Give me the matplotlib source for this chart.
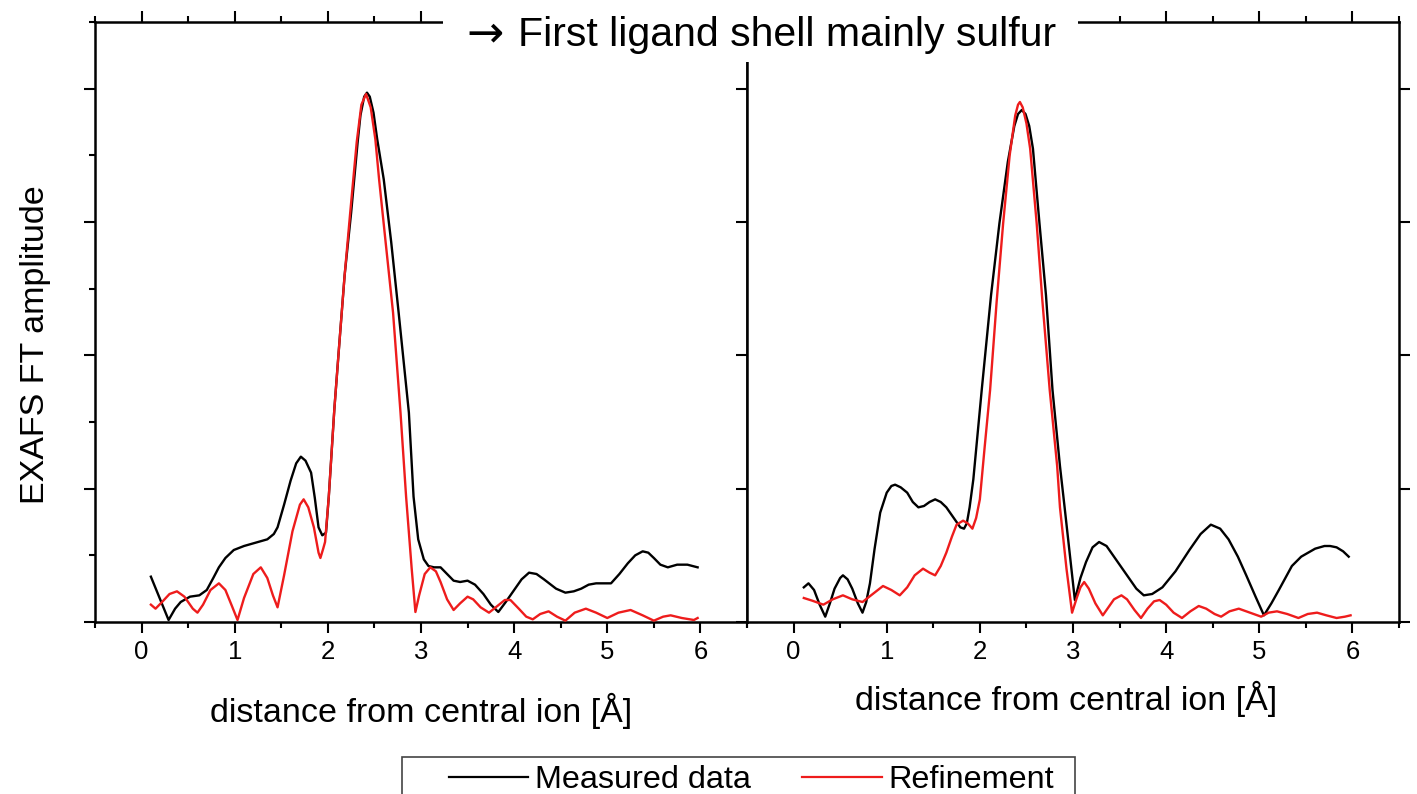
import matplotlib.pyplot as plt
from matplotlib.ticker import MultipleLocator
from matplotlib.patches import Rectangle
from matplotlib.lines import Line2D

plt.rcParams['font.family'] = ['Liberation Sans', 'DejaVu Sans']

# left panel: measured and refined FT amplitude
left_meas_x = [0.10, 0.29, 0.36, 0.42, 0.52, 0.62, 0.70, 0.77, 0.83, 0.90, 0.99, 1.10, 1.20, 1.35,
               1.42, 1.46, 1.53, 1.60, 1.66, 1.71, 1.76, 1.82, 1.86, 1.90, 1.94, 1.98, 2.01, 2.07,
               2.12, 2.18, 2.25, 2.32, 2.35, 2.39, 2.42, 2.45, 2.49, 2.53, 2.60, 2.68, 2.76, 2.87,
               2.92, 2.97, 3.03, 3.08, 3.14, 3.21, 3.28, 3.35, 3.42, 3.50, 3.58, 3.67, 3.75, 3.83,
               3.91, 4.00, 4.08, 4.16, 4.24, 4.32, 4.45, 4.55, 4.64, 4.72, 4.80, 4.88, 4.96, 5.04,
               5.13, 5.22, 5.30, 5.38, 5.44, 5.50, 5.57, 5.65, 5.75, 5.86, 5.97]
left_meas_y = [0.34, 0.015, 0.10, 0.15, 0.19, 0.20, 0.24, 0.33, 0.41, 0.48, 0.54, 0.57, 0.59, 0.62,
               0.66, 0.71, 0.88, 1.06, 1.19, 1.24, 1.21, 1.12, 0.93, 0.71, 0.65, 0.67, 0.94, 1.60,
               2.06, 2.60, 3.07, 3.60, 3.80, 3.94, 3.97, 3.94, 3.82, 3.62, 3.32, 2.85, 2.32, 1.57,
               0.94, 0.62, 0.47, 0.42, 0.41, 0.41, 0.36, 0.31, 0.30, 0.31, 0.28, 0.21, 0.13, 0.075,
               0.15, 0.24, 0.32, 0.37, 0.36, 0.32, 0.25, 0.22, 0.23, 0.25, 0.28, 0.29, 0.29, 0.29,
               0.36, 0.44, 0.50, 0.53, 0.52, 0.48, 0.43, 0.41, 0.43, 0.43, 0.41]

left_fit_x = [0.10, 0.15, 0.22, 0.30, 0.38, 0.46, 0.55, 0.60, 0.66, 0.74, 0.83, 0.90, 0.97, 1.03,
              1.10, 1.20, 1.28, 1.35, 1.41, 1.46, 1.53, 1.62, 1.70, 1.74, 1.79, 1.85, 1.90, 1.92,
              1.95, 1.97, 2.01, 2.07, 2.12, 2.18, 2.24, 2.31, 2.36, 2.41, 2.46, 2.51, 2.55, 2.62,
              2.70, 2.78, 2.84, 2.90, 2.94, 2.98, 3.04, 3.10, 3.16, 3.21, 3.28, 3.35, 3.42, 3.50,
              3.56, 3.64, 3.73, 3.82, 3.90, 3.96, 4.05, 4.13, 4.20, 4.28, 4.37, 4.46, 4.55, 4.65,
              4.77, 4.88, 5.00, 5.12, 5.25, 5.38, 5.50, 5.60, 5.68, 5.80, 5.93, 5.97]
left_fit_y = [0.13, 0.10, 0.15, 0.21, 0.23, 0.19, 0.10, 0.07, 0.13, 0.24, 0.29, 0.24, 0.12, 0.015,
              0.18, 0.36, 0.41, 0.33, 0.20, 0.11, 0.35, 0.68, 0.88, 0.92, 0.86, 0.71, 0.52, 0.48,
              0.55, 0.60, 0.94, 1.60, 2.06, 2.60, 3.07, 3.60, 3.88, 3.96, 3.86, 3.62, 3.32, 2.85,
              2.32, 1.57, 0.94, 0.40, 0.075, 0.20, 0.36, 0.41, 0.38, 0.30, 0.17, 0.09, 0.14, 0.19,
              0.17, 0.11, 0.07, 0.12, 0.165, 0.165, 0.10, 0.04, 0.02, 0.06, 0.08, 0.04, 0.01, 0.07,
              0.10, 0.07, 0.03, 0.07, 0.09, 0.05, 0.01, 0.04, 0.05, 0.03, 0.015, 0.03]

# right panel
right_meas_x = [0.11, 0.16, 0.22, 0.28, 0.34, 0.39, 0.44, 0.50, 0.53, 0.58, 0.63, 0.69, 0.74, 0.78,
                0.82, 0.87, 0.93, 1.00, 1.05, 1.09, 1.15, 1.22, 1.28, 1.34, 1.40, 1.46, 1.52, 1.58,
                1.64, 1.72, 1.79, 1.83, 1.86, 1.89, 1.93, 2.02, 2.12, 2.21, 2.30, 2.37, 2.41, 2.45,
                2.49, 2.53, 2.57, 2.64, 2.71, 2.78, 2.86, 2.91, 3.02, 3.08, 3.14, 3.21, 3.28, 3.36,
                3.46, 3.60, 3.68, 3.76, 3.85, 3.96, 4.10, 4.25, 4.37, 4.48, 4.58, 4.67, 4.77, 4.86,
                4.96, 5.05, 5.13, 5.21, 5.35, 5.45, 5.60, 5.70, 5.76, 5.83, 5.90, 5.96]
right_meas_y = [0.26, 0.29, 0.24, 0.13, 0.04, 0.14, 0.25, 0.33, 0.35, 0.32, 0.25, 0.14, 0.07, 0.15,
                0.29, 0.55, 0.82, 0.97, 1.02, 1.03, 1.01, 0.97, 0.90, 0.86, 0.87, 0.90, 0.92, 0.90,
                0.86, 0.78, 0.71, 0.70, 0.74, 0.86, 1.07, 1.74, 2.45, 2.99, 3.45, 3.72, 3.81, 3.84,
                3.81, 3.72, 3.55, 2.99, 2.45, 1.74, 1.17, 0.86, 0.165, 0.33, 0.45, 0.56, 0.60, 0.57,
                0.47, 0.33, 0.25, 0.20, 0.21, 0.26, 0.38, 0.54, 0.66, 0.73, 0.70, 0.62, 0.49, 0.35,
                0.19, 0.05, 0.14, 0.24, 0.42, 0.49, 0.55, 0.57, 0.57, 0.56, 0.53, 0.49]

right_fit_x = [0.11, 0.20, 0.32, 0.42, 0.53, 0.63, 0.74, 0.85, 0.96, 1.05, 1.14, 1.22, 1.30, 1.39,
               1.46, 1.52, 1.58, 1.64, 1.70, 1.75, 1.82, 1.87, 1.92, 1.96, 2.00, 2.05, 2.11, 2.18,
               2.25, 2.32, 2.38, 2.41, 2.43, 2.46, 2.50, 2.54, 2.61, 2.67, 2.75, 2.83, 2.86, 2.93,
               2.99, 3.04, 3.08, 3.12, 3.17, 3.24, 3.32, 3.37, 3.44, 3.52, 3.58, 3.66, 3.73, 3.80,
               3.87, 3.93, 4.00, 4.08, 4.17, 4.26, 4.35, 4.43, 4.52, 4.59, 4.68, 4.78, 4.90, 5.02,
               5.10, 5.19, 5.30, 5.42, 5.52, 5.62, 5.72, 5.83, 5.92, 5.98]
right_fit_y = [0.18, 0.16, 0.13, 0.17, 0.20, 0.17, 0.15, 0.21, 0.27, 0.24, 0.20, 0.26, 0.35, 0.40,
               0.37, 0.35, 0.42, 0.52, 0.64, 0.73, 0.76, 0.74, 0.70, 0.78, 0.92, 1.30, 1.74, 2.40,
               2.99, 3.50, 3.80, 3.88, 3.90, 3.86, 3.74, 3.55, 2.99, 2.42, 1.74, 1.17, 0.86, 0.40,
               0.07, 0.18, 0.26, 0.30, 0.25, 0.14, 0.05, 0.10, 0.17, 0.20, 0.17, 0.09, 0.03, 0.10,
               0.155, 0.165, 0.13, 0.07, 0.03, 0.08, 0.12, 0.10, 0.06, 0.04, 0.08, 0.10, 0.07, 0.04,
               0.07, 0.08, 0.06, 0.03, 0.06, 0.07, 0.05, 0.03, 0.04, 0.05]

MEAS_COLOR = 'black'
FIT_COLOR = '#ee1c1c'

W, H = 1417, 794
fig = plt.figure(figsize=(W / 100, H / 100), dpi=100)

ax_l = fig.add_axes([95 / W, (H - 622) / H, 652 / W, 600 / H])
ax_r = fig.add_axes([747 / W, (H - 622) / H, 652 / W, 600 / H])


def style_axes(ax, y_minor):
    ax.set_xlim(-0.5, 6.5)
    ax.set_ylim(0, 4.5)
    ax.xaxis.set_major_locator(MultipleLocator(1))
    ax.xaxis.set_minor_locator(MultipleLocator(0.5))
    ax.yaxis.set_major_locator(MultipleLocator(1))
    ax.yaxis.set_minor_locator(MultipleLocator(0.5))
    for sp in ax.spines.values():
        sp.set_linewidth(1.8)
    ax.tick_params(axis='both', which='both', direction='out', width=1.5,
                   top=True, bottom=True, left=True, right=True)
    ax.tick_params(axis='both', which='major', length=8)
    ax.tick_params(axis='both', which='minor', length=4.5)
    ax.tick_params(axis='x', labelsize=18.5, pad=5)
    ax.tick_params(axis='y', labelleft=False)
    ax.tick_params(axis='y', which='minor', left=y_minor, right=False)


style_axes(ax_l, True)
style_axes(ax_r, False)

for ax, mx, my, fx, fy in [(ax_l, left_meas_x, left_meas_y, left_fit_x, left_fit_y),
                           (ax_r, right_meas_x, right_meas_y, right_fit_x, right_fit_y)]:
    ax.plot(mx, my, color=MEAS_COLOR, lw=1.7, solid_joinstyle='round', zorder=3)
    ax.plot(fx, fy, color=FIT_COLOR, lw=1.7, solid_joinstyle='round', zorder=4)

ax_l.set_xlabel('distance from central ion [Å]', fontsize=24.5, va='center')
ax_l.xaxis.set_label_coords(0.5, -0.148)
ax_r.set_xlabel('distance from central ion [Å]', fontsize=24.5, va='center')
ax_r.xaxis.set_label_coords(0.49, -0.128)
ax_l.set_ylabel('EXAFS FT amplitude', fontsize=24.5, va='center')
ax_l.yaxis.set_label_coords(-0.092, 0.463)

# white box with the statement over the top edge
fig.add_artist(Rectangle((443 / W, 1 - 62 / H), 635 / W, 62 / H, transform=fig.transFigure,
                         facecolor='white', edgecolor='none', zorder=4))
fig.text(466 / W, 1 - 46 / H, '\u2192', fontsize=32, family='DejaVu Sans',
         ha='left', va='baseline', zorder=5)
fig.text(518 / W, 1 - 46 / H, 'First ligand shell mainly sulfur', fontsize=29.5,
         ha='left', va='baseline', zorder=5)

# legend at the bottom, frame runs off the lower edge
fig.add_artist(Rectangle((402 / W, -0.05), 673 / W, (H - 757) / H + 0.05, transform=fig.transFigure,
                         fill=False, edgecolor='#444444', lw=1.2, zorder=4))
handles = [Line2D([], [], color=MEAS_COLOR, lw=1.6), Line2D([], [], color=FIT_COLOR, lw=1.6)]
fig.legend(handles, ['Measured data', 'Refinement'], ncol=2, frameon=False, fontsize=23.3,
           loc='center left', bbox_to_anchor=(449 / W, 1 - 780 / H), borderpad=0,
           borderaxespad=0, handlelength=2.45, handletextpad=0.2, columnspacing=1.6)

fig.savefig('out.png', dpi=100)
